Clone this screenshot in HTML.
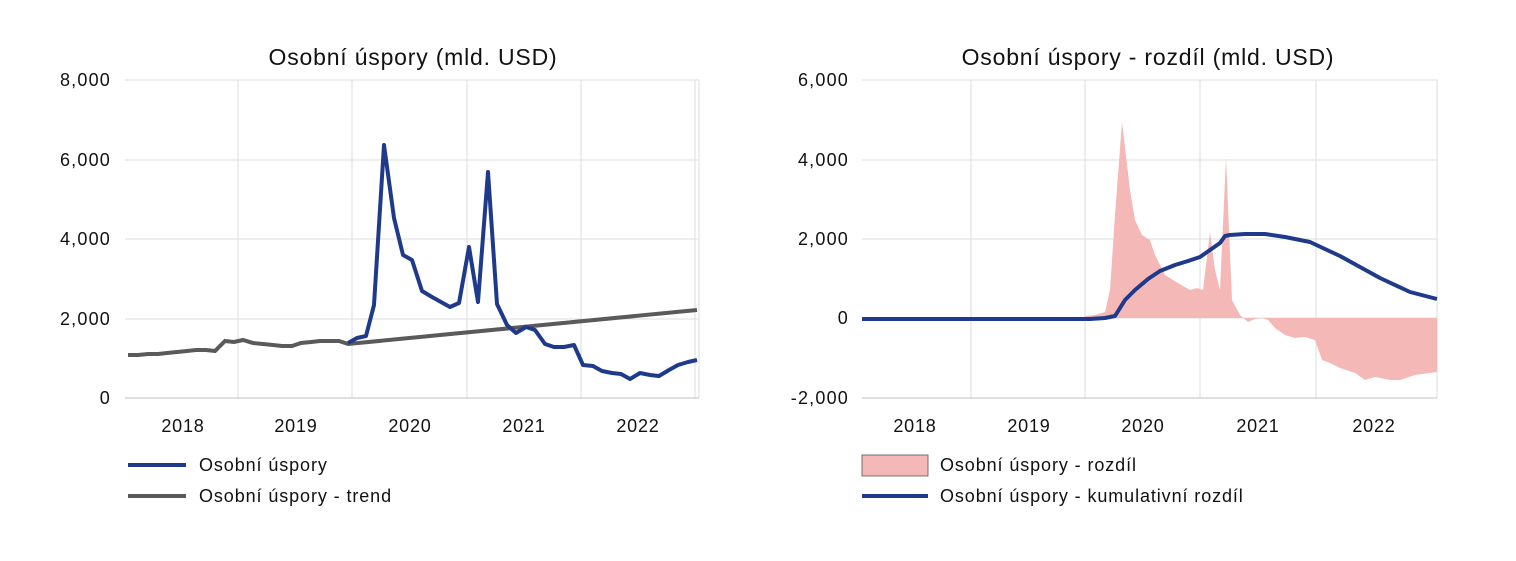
<!DOCTYPE html><html><head><meta charset="utf-8"><style>body{margin:0;background:#fff}svg{display:block}text{font-family:"Liberation Sans",sans-serif;fill:#111}</style></head><body>
<svg width="1516" height="561" viewBox="0 0 1516 561">
<g stroke="#dcdcdc" stroke-width="1">
<line x1="125" y1="80" x2="699" y2="80"/><line x1="125" y1="160" x2="699" y2="160"/><line x1="125" y1="239" x2="699" y2="239"/><line x1="125" y1="319" x2="699" y2="319"/>
<line x1="238" y1="80" x2="238" y2="398"/><line x1="352" y1="80" x2="352" y2="398"/><line x1="467" y1="80" x2="467" y2="398"/><line x1="581" y1="80" x2="581" y2="398"/><line x1="695" y1="80" x2="695" y2="398"/><line x1="699" y1="80" x2="699" y2="398"/>
<line x1="862" y1="80" x2="1437" y2="80"/><line x1="862" y1="160" x2="1437" y2="160"/><line x1="862" y1="239" x2="1437" y2="239"/><line x1="862" y1="318" x2="1437" y2="318"/>
<line x1="971" y1="80" x2="971" y2="398"/><line x1="1085" y1="80" x2="1085" y2="398"/><line x1="1200" y1="80" x2="1200" y2="398"/><line x1="1316" y1="80" x2="1316" y2="398"/><line x1="1437" y1="80" x2="1437" y2="398"/>
</g>
<line x1="125" y1="398" x2="699" y2="398" stroke="#bfbfbf"/><line x1="862" y1="398" x2="1437" y2="398" stroke="#bfbfbf"/>
<text x="413" y="65" font-size="23" letter-spacing="0.8" text-anchor="middle">Osobní úspory (mld. USD)</text>
<text x="1148" y="65" font-size="23" letter-spacing="0.8" text-anchor="middle">Osobní úspory - rozdíl (mld. USD)</text>
<g font-size="18" letter-spacing="1.2" text-anchor="end"><text x="111" y="86">8,000</text><text x="111" y="166">6,000</text><text x="111" y="245">4,000</text><text x="111" y="325">2,000</text><text x="111" y="404">0</text>
<text x="849" y="86">6,000</text><text x="849" y="166">4,000</text><text x="849" y="245">2,000</text><text x="849" y="324">0</text><text x="849" y="404">-2,000</text></g>
<g font-size="18" letter-spacing="0.8" text-anchor="middle"><text x="183" y="432">2018</text><text x="296" y="432">2019</text><text x="410" y="432">2020</text><text x="524" y="432">2021</text><text x="638" y="432">2022</text>
<text x="915" y="432">2018</text><text x="1029" y="432">2019</text><text x="1143" y="432">2020</text><text x="1258" y="432">2021</text><text x="1374" y="432">2022</text></g>
<polyline fill="none" stroke="#5a5a5a" stroke-width="4" points="128,355 138,355 148,354 158,354 167,353 177,352 187,351 196,350 206,350 215,351 225,341 234,342 243,340 253,343 263,344 273,345 282,346 292,346 301,343 311,342 320,341 330,341 339,341 348,344 697,310"/>
<polyline fill="none" stroke="#1f3a8a" stroke-width="4" stroke-linejoin="round" points="348,343 357,338 366,336 374,305 384,145 394,218 403,255 412,260 422,291 432,297 441,302 450,307 459,303 469,247 478,302 488,172 497,304 507,325 516,333 526,327 535,330 545,344 554,347 564,347 574,345 583,365 593,366 602,371 612,373 621,374 630,379 640,373 650,375 659,376 669,370 678,365 688,362 697,360"/>
<polygon fill="#f4b9b6" points="1085,318 1085,316 1095,315 1105,312 1110,290 1115,215 1122,122 1130,190 1135,220 1142,235 1150,240 1155,255 1165,275 1178,283 1190,290 1197,288 1203,290 1210,232 1215,270 1220,290 1226,158 1232,300 1240,315 1248,322 1255,319 1262,318 1268,320 1275,328 1285,335 1295,338 1305,337 1315,340 1322,360 1330,363 1340,368 1355,373 1365,380 1375,377 1390,380 1400,380 1415,375 1437,372 1437,318"/>
<polyline fill="none" stroke="#1f3a8a" stroke-width="4" stroke-linejoin="round" points="862,319 1090,319 1105,318 1115,316 1125,300 1135,290 1148,279 1160,271 1175,265 1188,261 1200,257 1210,250 1220,243 1225,236 1230,235 1245,234 1265,234 1285,237 1310,242 1340,256 1380,278 1410,292 1437,299"/>
<line x1="128" y1="465" x2="186" y2="465" stroke="#1f3a8a" stroke-width="4"/><text x="199" y="471" font-size="18" letter-spacing="0.9">Osobní úspory</text>
<line x1="128" y1="496" x2="186" y2="496" stroke="#5a5a5a" stroke-width="4"/><text x="199" y="502" font-size="18" letter-spacing="0.9">Osobní úspory - trend</text>
<rect x="862" y="455" width="66" height="21" fill="#f4b9b6" stroke="#555" stroke-width="0.8"/><text x="940" y="471" font-size="18" letter-spacing="0.9">Osobní úspory - rozdíl</text>
<line x1="862" y1="496" x2="928" y2="496" stroke="#1f3a8a" stroke-width="4"/><text x="940" y="502" font-size="18" letter-spacing="0.9">Osobní úspory - kumulativní rozdíl</text>
</svg></body></html>
